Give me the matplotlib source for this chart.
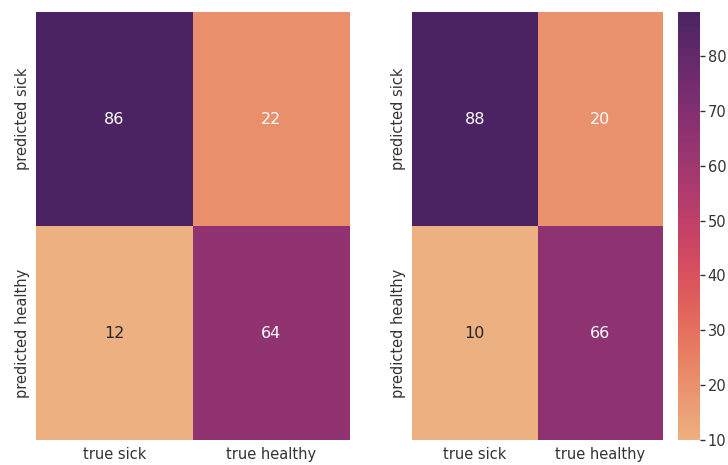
import numpy as np
import matplotlib
matplotlib.use("Agg")
import matplotlib.pyplot as plt
import seaborn as sns

# confusion matrices for the two models
row_labels = ["predicted sick", "predicted healthy"]
col_labels = ["true sick", "true healthy"]
cm_left = np.array([[86, 22],
                    [12, 64]])
cm_right = np.array([[88, 20],
                     [10, 66]])

sns.set_theme(style="white")
plt.rcParams['font.family'] = ['DejaVu Sans']

W, H = 728, 465
fig = plt.figure(figsize=(W / 100, H / 100), dpi=100)

def box(x0, x1, y0=12, y1=440):
    return [x0 / W, (H - y1) / H, (x1 - x0) / W, (y1 - y0) / H]

ax1 = fig.add_axes(box(36, 350))
ax2 = fig.add_axes(box(412, 663))
cax = fig.add_axes(box(678, 700))

annot_kws = {"size": 11.5}
sns.heatmap(cm_left, ax=ax1, cmap="flare", annot=True, fmt="d", cbar=False,
            xticklabels=col_labels, yticklabels=row_labels, annot_kws=annot_kws)
sns.heatmap(cm_right, ax=ax2, cmap="flare", annot=True, fmt="d", cbar_ax=cax,
            xticklabels=col_labels, yticklabels=row_labels, annot_kws=annot_kws)

for ax in (ax1, ax2):
    ax.tick_params(axis="x", length=0, labelsize=10.5, colors=".2", pad=5)
    ax.tick_params(axis="y", length=0, labelsize=10.5, colors=".2", pad=4)
    ax.set_yticklabels(row_labels, rotation=90, va="center")

cax.tick_params(axis="y", length=3.5, width=1, labelsize=10.5, colors=".2", pad=2)
cax.set_yticks([10, 20, 30, 40, 50, 60, 70, 80])

fig.savefig("out.png", dpi=100)
